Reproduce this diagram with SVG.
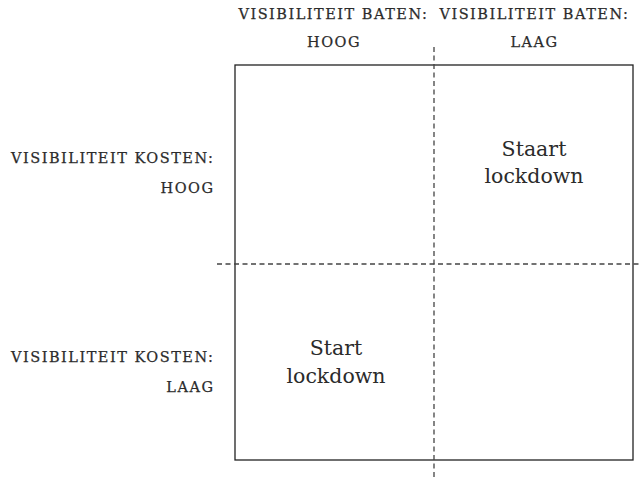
<svg xmlns="http://www.w3.org/2000/svg" width="640" height="477" viewBox="0 0 640 477">
  <style>
    .axis { font-family: "DejaVu Serif", "Liberation Serif", serif; font-size: 14.5px; fill: #2b2b2b; stroke: #2b2b2b; stroke-width: 0.25; letter-spacing: 1.5px; }
    .cell { font-family: "DejaVu Serif", "Liberation Serif", serif; font-size: 20.5px; fill: #2b2b2b; }
    .frame { fill: none; stroke: #222; stroke-width: 1.3; }
    .divider { fill: none; stroke: #444; stroke-width: 1.3; stroke-dasharray: 5 3.5; }
  </style>
  <rect width="640" height="477" fill="#ffffff"/>

  <!-- column headers (x nudged by half the trailing letter-spacing) -->
  <g id="col-high">
    <text class="axis" x="333.5" y="18.5" text-anchor="middle">VISIBILITEIT BATEN:</text>
    <text class="axis" x="334" y="47" text-anchor="middle">HOOG</text>
  </g>
  <g id="col-low">
    <text class="axis" x="534.5" y="18.5" text-anchor="middle">VISIBILITEIT BATEN:</text>
    <text class="axis" x="534.5" y="47" text-anchor="middle">LAAG</text>
  </g>

  <!-- row headers -->
  <g id="row-high">
    <text class="axis" x="214.5" y="163" text-anchor="end">VISIBILITEIT KOSTEN:</text>
    <text class="axis" x="214.5" y="193" text-anchor="end">HOOG</text>
  </g>
  <g id="row-low">
    <text class="axis" x="214.5" y="362" text-anchor="end">VISIBILITEIT KOSTEN:</text>
    <text class="axis" x="214.5" y="392" text-anchor="end">LAAG</text>
  </g>

  <!-- matrix frame -->
  <g id="matrix">
    <rect class="frame" x="235" y="65" width="398" height="395"/>
  </g>

  <!-- quadrant dividers -->
  <g id="connectors">
    <line class="divider" x1="434" y1="47" x2="434" y2="477"/>
    <line class="divider" x1="217" y1="264" x2="640" y2="264"/>
  </g>

  <!-- quadrant entries -->
  <g id="staart-lockdown">
    <text class="cell" x="534" y="156" text-anchor="middle">Staart</text>
    <text class="cell" x="534" y="183" text-anchor="middle">lockdown</text>
  </g>
  <g id="start-lockdown">
    <text class="cell" x="336" y="355" text-anchor="middle">Start</text>
    <text class="cell" x="336" y="383" text-anchor="middle">lockdown</text>
  </g>
</svg>
